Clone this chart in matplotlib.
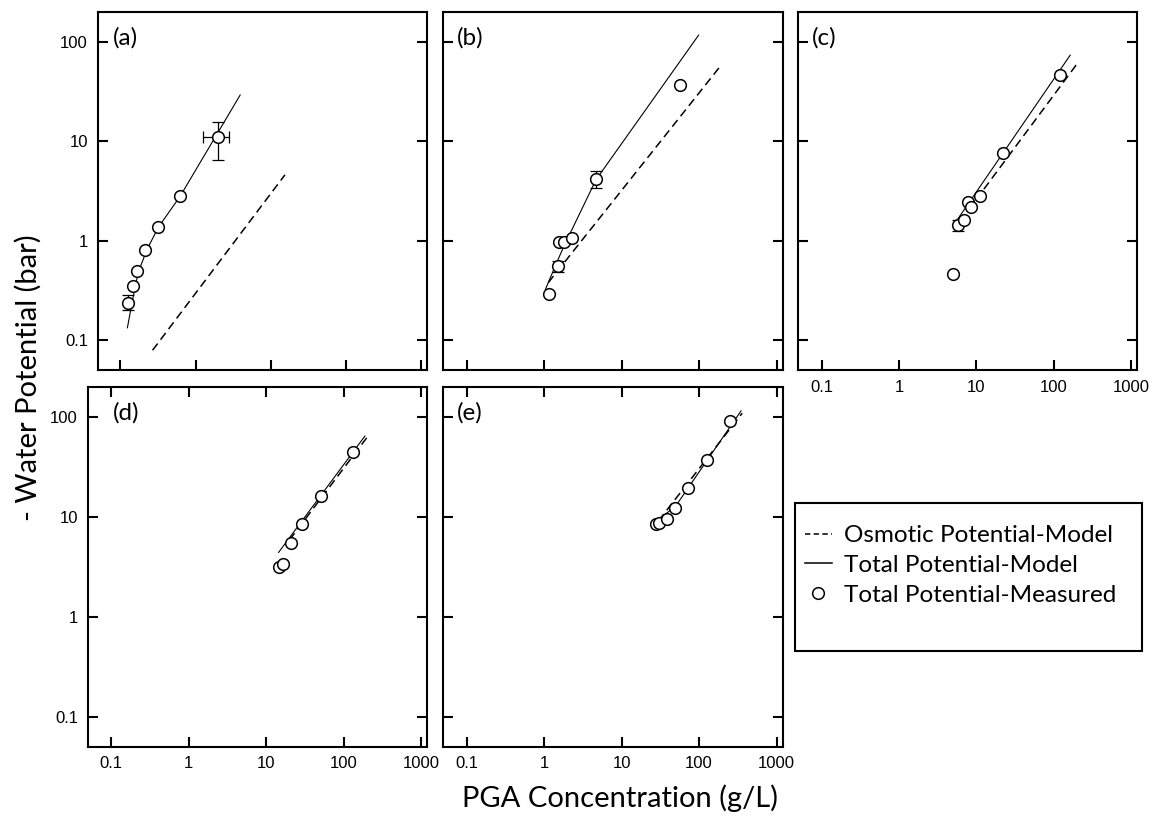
import matplotlib
matplotlib.use("Agg")
import numpy as np
import matplotlib.pyplot as plt
from matplotlib.lines import Line2D
from matplotlib.patches import Rectangle

# ---------------------------------------------------------------- data
tick_x = [0.1, 1, 10, 100, 1000]
tick_x_labels = ["0.1", "1", "10", "100", "1000"]
tick_y = [0.1, 1, 10, 100]
tick_y_labels = ["0.1", "1", "10", "100"]

panel_names = ["(a)", "(b)", "(c)", "(d)", "(e)"]

# measured total potential (bar) vs PGA concentration (g/L)
conc_a = [0.126, 0.146, 0.166, 0.213, 0.316, 0.625, 1.98]
psi_a = [0.238, 0.349, 0.493, 0.815, 1.36, 2.81, 11.1]
psi_a_lo = [0.200, np.nan, np.nan, np.nan, np.nan, np.nan, 6.46]
psi_a_hi = [0.281, np.nan, np.nan, np.nan, np.nan, np.nan, 15.8]
conc_a_lo = [np.nan, np.nan, np.nan, np.nan, np.nan, np.nan, 1.24]
conc_a_hi = [np.nan, np.nan, np.nan, np.nan, np.nan, np.nan, 2.77]

conc_b = [1.16, 1.49, 1.57, 1.80, 2.26, 4.67, 56.0]
psi_b = [0.294, 0.553, 0.964, 0.964, 1.06, 4.17, 37.1]
psi_b_lo = [np.nan, 0.482, np.nan, np.nan, np.nan, 3.39, np.nan]
psi_b_hi = [np.nan, 0.621, np.nan, np.nan, np.nan, 4.97, np.nan]

conc_c = [4.95, 5.85, 7.0, 7.74, 8.47, 11.2, 22.3, 119]
psi_c = [0.457, 1.45, 1.60, 2.43, 2.16, 2.79, 7.65, 46.4]
psi_c_lo = [np.nan, 1.24, np.nan, np.nan, np.nan, np.nan, np.nan, np.nan]
psi_c_hi = [np.nan, 1.62, np.nan, np.nan, np.nan, np.nan, np.nan, np.nan]

conc_d = [14.8, 16.7, 21.2, 29.4, 50.8, 134]
psi_d = [3.13, 3.36, 5.45, 8.45, 16.3, 44.9]

conc_e = [27.4, 30.2, 38.3, 49.2, 73.0, 128, 253]
psi_e = [8.57, 8.77, 9.49, 12.2, 19.4, 37.1, 92.5]

# model curves: total potential (solid) and osmotic potential (dashed)
total_a_x = [0.124, 0.143, 0.158, 0.175, 0.226, 0.319, 0.625, 3.91]
total_a_y = [0.133, 0.238, 0.349, 0.493, 0.815, 1.36, 2.81, 29.2]
osm_a_x = [0.268, 15.4]
osm_a_y = [0.079, 4.6]

total_b_x = [1.04, 1.45, 1.80, 4.67, 98.6]
total_b_y = [0.324, 0.599, 0.879, 4.10, 117]
osm_b_x = [1.13, 185]
osm_b_y = [0.378, 56.1]

total_c_x = [5.31, 163]
total_c_y = [1.51, 73.6]
osm_c_x = [6.15, 209]
osm_c_y = [1.57, 63.1]

total_d_x = [14.5, 188]
total_d_y = [4.43, 64.9]
osm_d_x = [20.0, 203]
osm_d_y = [5.9, 63.8]

total_e_x = [25.3, 49.2, 348]
total_e_y = [8.65, 12.7, 116]
osm_e_x = [30.0, 360]
osm_e_y = [9.2, 110]

legend_labels = ["Osmotic Potential-Model", "Total Potential-Model",
                 "Total Potential-Measured"]

# ---------------------------------------------------------------- layout
W, H = 1153, 819
fig = plt.figure(figsize=(W / 100, H / 100), dpi=100)

LABEL_FONT = ["Lato", "DejaVu Sans"]
TICK_FONT = ["Liberation Sans", "DejaVu Sans"]


def px_box(left, top, right, bottom):
    return [left / W, 1 - bottom / H, (right - left) / W, (bottom - top) / H]


boxes = [px_box(97.7, 12, 427.3, 370),
         px_box(443.3, 12, 782.7, 370),
         px_box(798.3, 12, 1137.3, 370),
         px_box(87.7, 387.3, 427.3, 746.7),
         px_box(443.3, 387.3, 782.7, 746.7)]
label_offsets = [(15.6, 25.5), (14, 25.5), (13.4, 25.5), (25.6, 26), (14, 26)]
show_ylabels = [True, False, False, True, False]
show_xlabels = [False, False, True, True, True]
top_ticks = [False, False, False, True, True]

panels = [
    dict(x=conc_a, y=psi_a, ylo=psi_a_lo, yhi=psi_a_hi, xlo=conc_a_lo, xhi=conc_a_hi,
         tx=total_a_x, ty=total_a_y, ox=osm_a_x, oy=osm_a_y),
    dict(x=conc_b, y=psi_b, ylo=psi_b_lo, yhi=psi_b_hi,
         tx=total_b_x, ty=total_b_y, ox=osm_b_x, oy=osm_b_y),
    dict(x=conc_c, y=psi_c, ylo=psi_c_lo, yhi=psi_c_hi,
         tx=total_c_x, ty=total_c_y, ox=osm_c_x, oy=osm_c_y),
    dict(x=conc_d, y=psi_d, tx=total_d_x, ty=total_d_y, ox=osm_d_x, oy=osm_d_y),
    dict(x=conc_e, y=psi_e, tx=total_e_x, ty=total_e_y, ox=osm_e_x, oy=osm_e_y),
]

MARKER = dict(marker="o", ms=8.4, mfc="white", mec="black", mew=1.1, ls="none")
DASHES = (5.5, 3.2)

for i, p in enumerate(panels):
    ax = fig.add_axes(boxes[i])
    ax.set_xscale("log")
    ax.set_yscale("log")

    ax.plot(p["ox"], p["oy"], color="black", lw=1.1, dashes=DASHES, zorder=2)
    ax.plot(p["tx"], p["ty"], color="black", lw=0.8, zorder=2)

    x = np.asarray(p["x"], float)
    y = np.asarray(p["y"], float)
    if "ylo" in p:
        lo = np.asarray(p["ylo"], float)
        hi = np.asarray(p["yhi"], float)
        m = ~np.isnan(lo)
        ax.errorbar(x[m], y[m], yerr=[y[m] - lo[m], hi[m] - y[m]], fmt="none",
                    ecolor="black", elinewidth=0.9, capsize=4.5, capthick=0.9, zorder=3)
    if "xlo" in p:
        lo = np.asarray(p["xlo"], float)
        hi = np.asarray(p["xhi"], float)
        m = ~np.isnan(lo)
        ax.errorbar(x[m], y[m], xerr=[x[m] - lo[m], hi[m] - x[m]], fmt="none",
                    ecolor="black", elinewidth=0.9, capsize=4.5, capthick=0.9, zorder=3)
    ax.plot(x, y, zorder=4, **MARKER)

    ax.set_xlim(0.05, 1200)
    ax.set_ylim(0.05, 200)
    ax.set_xticks(tick_x, tick_x_labels)
    ax.set_yticks(tick_y, tick_y_labels)
    ax.minorticks_off()
    for s in ax.spines.values():
        s.set_linewidth(1.5)
    ax.tick_params(which="major", direction="in", length=7.5, width=1.5,
                   left=True, right=True, bottom=True, top=top_ticks[i],
                   labelleft=show_ylabels[i], labelbottom=show_xlabels[i],
                   pad=7, labelsize=12)
    for lab in ax.get_xticklabels() + ax.get_yticklabels():
        lab.set_family(TICK_FONT)

    dx, dy = label_offsets[i]
    ax.annotate(panel_names[i], xy=(0, 1), xycoords="axes fraction",
                xytext=(dx * 0.72, -dy * 0.72), textcoords="offset points",
                ha="left", va="center", fontsize=17.5, family=LABEL_FONT)

# axis titles
fig.text(28 / W, 1 - 378 / H, "- Water Potential (bar)", rotation=90,
         ha="center", va="center", fontsize=21, family=LABEL_FONT)
fig.text(620 / W, 1 - 798 / H, "PGA Concentration (g/L)",
         ha="center", va="center", fontsize=21, family=LABEL_FONT)

# key box
l, t, r, b = 795, 502.7, 1141.7, 650.7
fig.patches.append(Rectangle((l / W, 1 - b / H), (r - l) / W, (b - t) / H,
                             transform=fig.transFigure, fill=False,
                             edgecolor="black", lw=1.5))
handles = [Line2D([], [], color="black", lw=1.1, dashes=(3.5, 2.2)),
           Line2D([], [], color="black", lw=1.1),
           Line2D([], [], **MARKER)]
fig.legend(handles, legend_labels, loc="upper left",
           bbox_to_anchor=(805 / W, 1 - 525 / H), frameon=False,
           prop=dict(family=LABEL_FONT, size=17.5), handlelength=1.1,
           handletextpad=0.5, labelspacing=0.36, borderpad=0, borderaxespad=0)

fig.savefig("out.png", dpi=100)
